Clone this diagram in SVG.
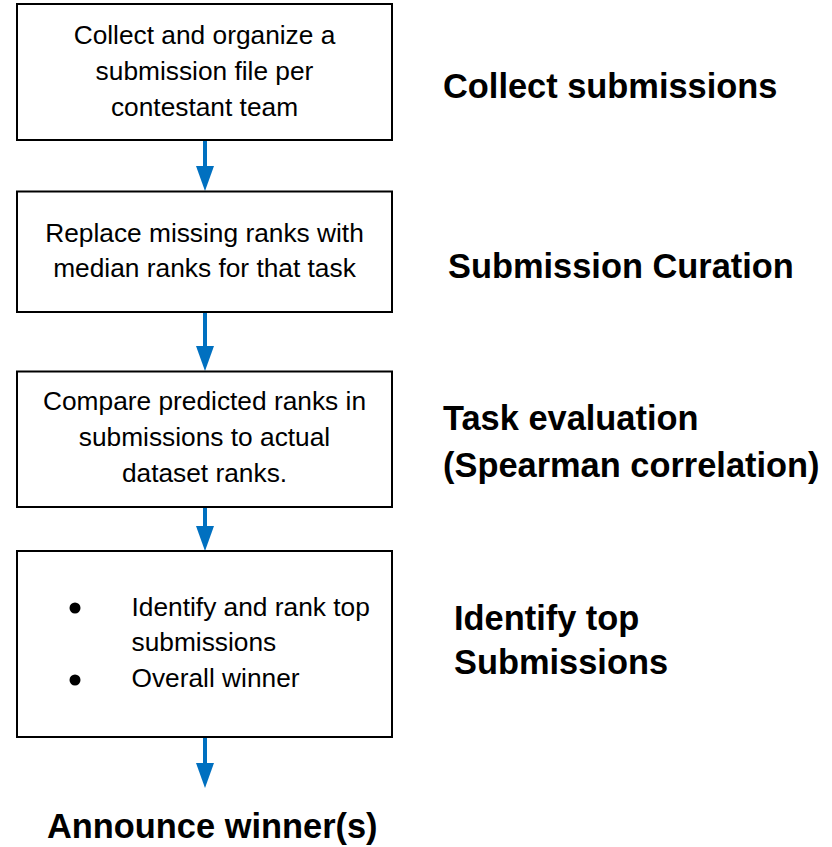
<svg xmlns="http://www.w3.org/2000/svg" width="832" height="847" viewBox="0 0 832 847">
<defs>
<style>
.box{fill:#fff;stroke:#000;stroke-width:2}
.t{font-family:"Liberation Sans",Arial,sans-serif;font-size:26.3px;fill:#000}
.c{text-anchor:middle}
.h{font-family:"Liberation Sans",Arial,sans-serif;font-size:34.4px;font-weight:bold;fill:#000}
.ln{stroke:#0070C0;stroke-width:4;fill:none}
.hd{fill:#0070C0}
</style>
</defs>
<rect width="832" height="847" fill="#fff"/>
<g id="connectors">
<line class="ln" x1="205" y1="140" x2="205" y2="168"/><polygon class="hd" points="196,166 214,166 205,191"/>
<line class="ln" x1="205" y1="312" x2="205" y2="348"/><polygon class="hd" points="196,346 214,346 205,371"/>
<line class="ln" x1="205" y1="507" x2="205" y2="528"/><polygon class="hd" points="196,526 214,526 205,551"/>
<line class="ln" x1="205" y1="737" x2="205" y2="765"/><polygon class="hd" points="196,763 214,763 205,788"/>
</g>
<g id="n1">
<rect class="box" x="17" y="4" width="375" height="136"/>
<text class="t c" x="204.5" y="44">Collect and organize a</text>
<text class="t c" x="204.5" y="80">submission file per</text>
<text class="t c" x="204.5" y="116">contestant team</text>
</g>
<g id="n2">
<rect class="box" x="17" y="191.5" width="375" height="120.5"/>
<text class="t c" x="204.5" y="242">Replace missing ranks with</text>
<text class="t c" x="204.5" y="277">median ranks for that task</text>
</g>
<g id="n3">
<rect class="box" x="17" y="371.5" width="375" height="135.5"/>
<text class="t c" x="204.5" y="410">Compare predicted ranks in</text>
<text class="t c" x="204.5" y="446">submissions to actual</text>
<text class="t c" x="204.5" y="482">dataset ranks.</text>
</g>
<g id="n4">
<rect class="box" x="17" y="551" width="375" height="186"/>
<circle cx="75" cy="608" r="5.5" fill="#000"/>
<circle cx="75" cy="680" r="5.5" fill="#000"/>
<text class="t" x="131.5" y="616">Identify and rank top</text>
<text class="t" x="131.5" y="651">submissions</text>
<text class="t" x="131.5" y="687">Overall winner</text>
</g>
<g id="labels">
<text class="h" x="443" y="98">Collect submissions</text>
<text class="h" x="448" y="278">Submission Curation</text>
<text class="h" x="443" y="430">Task evaluation</text>
<text class="h" x="443" y="477">(Spearman correlation)</text>
<text class="h" x="454" y="630">Identify top</text>
<text class="h" x="454" y="674">Submissions</text>
</g>
<g id="n5">
<text class="h" x="47" y="838">Announce winner(s)</text>
</g>
</svg>
